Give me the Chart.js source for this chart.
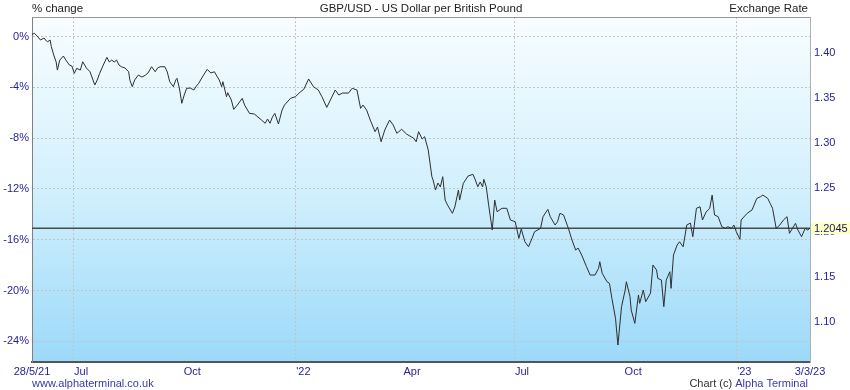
<!DOCTYPE html>
<html lang="en">
<head>
    <meta charset="UTF-8">
    <meta name="viewport" content="width=device-width, initial-scale=1.0">
    <title>GBP/USD - US Dollar per British Pound</title>
    <script src="https://cdn.jsdelivr.net/npm/chart.js@4.4.0/dist/chart.umd.min.js"></script>
    <style>
        body { margin: 0; background: #fff; }
        .grafico { position: relative; width: 850px; height: 390px; }
    </style>
</head>
<body>
    <div class="grafico">
        <canvas id="fx"></canvas>
    </div>

    <script>
        // days counted from 28/5/21, GBP/USD close
        const days = [0,2,5,7,10,12,13,15,16,18,20,21,23,26,28,31,33,35,37,40,
            42,45,48,52,54,56,59,62,64,66,68,70,72,74,77,80,81,83,85,88,
            91,94,96,99,102,104,106,110,112,114,117,119,120,122,124,126,128,131,134,136,
            138,141,145,148,151,153,155,157,158,161,162,165,167,170,174,176,180,184,187,190,
            193,195,197,199,201,204,207,209,214,218,222,225,229,233,237,240,244,247,251,254,
            257,262,265,269,272,274,277,280,284,286,289,292,296,299,302,306,310,316,318,320,
            323,325,328,331,332,334,336,338,340,342,344,348,350,353,354,357,361,365,367,369,
            371,373,374,376,378,381,383,385,389,393,396,400,403,405,408,411,414,416,421,423,
            427,429,433,435,437,440,443,444,447,450,452,455,459,462,466,
            469,470,472,476,478,480,483,485,488,491,492,495,496,499,502,503,506,508,512,514,
            517,518,521,523,525,528,529,531,534,536,539,542,545,547,550,553,555,558,561,563,
            565,568,571,574,576,579,581,583,586,587,592,596,600,603,605,609,611,613,616,619,
            622,625,627,632,634,637,640,642,644];

        const rates = [1.4210,1.4224,1.4182,1.4149,1.4171,1.4137,1.4130,1.4149,1.4074,1.3981,
            1.3903,1.3813,1.3925,1.3970,1.3925,1.3869,1.3858,1.3776,1.3832,1.3813,
            1.3906,1.3836,1.3794,1.3646,1.3702,1.3776,1.3869,1.3955,1.3903,1.3925,
            1.3903,1.3925,1.3869,1.3850,1.3836,1.3794,1.3702,1.3627,1.3702,1.3757,
            1.3735,1.3757,1.3780,1.3850,1.3794,1.3836,1.3850,1.3850,1.3791,1.3683,
            1.3627,1.3702,1.3720,1.3612,1.3441,1.3534,1.3609,1.3612,1.3590,1.3634,
            1.3665,1.3735,1.3821,1.3780,1.3794,1.3746,1.3702,1.3627,1.3683,1.3515,
            1.3560,1.3478,1.3374,1.3422,1.3497,1.3422,1.3329,1.3322,1.3288,1.3254,
            1.3218,1.3266,1.3218,1.3288,1.3329,1.3210,1.3366,1.3422,1.3497,1.3515,
            1.3567,1.3598,1.3713,1.3627,1.3590,1.3515,1.3396,1.3478,1.3590,1.3534,
            1.3556,1.3556,1.3609,1.3590,1.3385,1.3422,1.3366,1.3254,1.3124,1.3176,
            1.3012,1.3143,1.3254,1.3199,1.3106,1.3151,1.3098,1.3050,1.3012,1.3124,
            1.3042,1.3068,1.2919,1.2621,1.2584,1.2472,1.2550,1.2506,1.2621,1.2360,
            1.2304,1.2212,1.2282,1.2472,1.2360,1.2547,1.2629,1.2648,1.2584,1.2509,
            1.2562,1.2506,1.2592,1.2509,1.2304,1.2025,1.2360,1.2230,1.2268,1.2268,
            1.2137,1.2118,1.1932,1.2036,1.1894,1.1838,1.1936,1.2006,1.2044,1.2174,
            1.2256,1.2174,1.2081,1.2118,1.2212,1.2193,1.2081,1.2044,1.1913,1.1801,
            1.1824,1.1746,1.1615,1.1522,1.1522,
            1.1597,1.1671,1.1541,1.1447,1.1429,1.1262,1.1038,1.0740,1.1168,1.1354,
            1.1447,1.1280,1.1131,1.0982,1.1299,1.1206,1.1354,1.1224,1.1321,1.1634,
            1.1578,1.1485,1.1466,1.1168,1.1466,1.1559,1.1373,1.1746,1.1857,1.1894,
            1.1838,1.2081,1.2103,1.1950,1.2268,1.2285,1.2137,1.2226,1.2268,1.2416,
            1.2193,1.2174,1.2062,1.2044,1.2062,1.2044,1.2081,1.2006,1.1921,1.2137,
            1.2212,1.2249,1.2379,1.2397,1.2416,1.2379,1.2323,1.2268,1.2044,1.2081,
            1.2137,1.2174,1.1988,1.2100,1.2025,1.1950,1.2044,1.2025,1.2045];

        const baseRate = 1.4186     // the 0% level
        const lastRate = 1.2045
        const rateMin = 1.055
        const rateMax = 1.4406
        const lastDay = 644

        const rateTicks = [1.10, 1.15, 1.20, 1.25, 1.30, 1.35, 1.40]
        const pctTicks = [0, -4, -8, -12, -16, -20, -24]
        const dateTicks = [0, 34, 126, 218, 308, 399, 491, 583, 644]
        const dateLabels = ['28/5/21', 'Jul', 'Oct', "'22", 'Apr', 'Jul', 'Oct', "'23", '3/3/23']
        const gridDays = [34, 218, 399, 583]

        const fonte = '"Liberation Sans", Arial, sans-serif'
        const azul = '#25259a'
        const nudge = 8   // month labels sit just right of their tick

        function pct(r) {
            return (r / baseRate - 1) * 100
        }

        const fundo = {
            id: 'fundo',
            beforeDraw(chart) {
                const {ctx, chartArea: a} = chart
                const g = ctx.createLinearGradient(0, a.top, 0, a.bottom)
                g.addColorStop(0, '#f8fdff')
                g.addColorStop(0.5, '#d2f0fd')
                g.addColorStop(1, '#9cd9f9')
                ctx.save()
                ctx.fillStyle = g
                ctx.fillRect(a.left, a.top, a.right - a.left, a.bottom - a.top)
                ctx.restore()
            }
        }

        const textos = {
            id: 'textos',
            afterDraw(chart) {
                const {ctx, chartArea: a} = chart
                ctx.save()
                // top edge of the frame
                ctx.strokeStyle = '#999'
                ctx.lineWidth = 1
                ctx.beginPath()
                ctx.moveTo(a.left, a.top + 0.5)
                ctx.lineTo(a.right, a.top + 0.5)
                ctx.stroke()

                ctx.font = '11.5px ' + fonte
                ctx.fillStyle = '#222'
                ctx.textBaseline = 'alphabetic'
                ctx.textAlign = 'left'
                ctx.fillText('% change', a.left, 12)
                ctx.textAlign = 'center'
                ctx.fillText('GBP/USD - US Dollar per British Pound', (a.left + a.right) / 2, 12)
                ctx.textAlign = 'right'
                ctx.fillText('Exchange Rate', a.right - 2, 12)

                ctx.font = '11px ' + fonte
                ctx.textAlign = 'left'
                ctx.fillStyle = '#3838b0'
                ctx.fillText('www.alphaterminal.co.uk', a.left, 387)
                ctx.textAlign = 'right'
                ctx.fillText('Alpha Terminal', a.right - 2, 387)
                const w = ctx.measureText('Alpha Terminal').width
                ctx.fillStyle = '#333'
                ctx.fillText('Chart (c) ', a.right - 2 - w, 387)

                // current rate tag on the right axis
                const y = chart.scales.y.getPixelForValue(lastRate)
                ctx.fillStyle = '#ffffc8'
                ctx.fillRect(a.right + 1, y - 6, 850 - a.right - 1, 12)
                ctx.fillStyle = '#1a1a50'
                ctx.textAlign = 'left'
                ctx.textBaseline = 'middle'
                ctx.fillText(lastRate.toFixed(4), a.right + 4, y + 0.5)
                ctx.restore()
            }
        }

        const pontos = days.map(function(d, i) {
            return {x: d, y: rates[i]}
        })

        new Chart(document.getElementById('fx'), {
            type: 'line',
            data: {
                datasets: [{
                    data: pontos,
                    borderColor: '#2e2e2e',
                    borderWidth: 1,
                    pointRadius: 0,
                    tension: 0,
                    yAxisID: 'y'
                }, {
                    data: [{x: 0, y: lastRate}, {x: lastDay, y: lastRate}],
                    borderColor: '#4a4a4a',
                    borderWidth: 1.3,
                    pointRadius: 0,
                    yAxisID: 'y'
                }]
            },
            options: {
                responsive: true,
                maintainAspectRatio: false,
                animation: false,
                layout: { padding: { top: 17, left: 0, right: 0, bottom: 0 } },
                plugins: {
                    legend: { display: false },
                    tooltip: { enabled: false }
                },
                scales: {
                    x: {
                        type: 'linear',
                        min: 0,
                        max: lastDay,
                        afterBuildTicks: function(scale) {
                            const shift = nudge * lastDay / scale.width
                            scale.ticks = dateTicks.map(function(d, i) {
                                let v = d
                                if (i === 0 || i === dateTicks.length - 1) v = d - shift
                                return {value: v, label: dateLabels[i]}
                            })
                        },
                        afterFit: function(scale) {
                            scale.height = 28
                            scale.paddingLeft = 0
                            scale.paddingRight = 0
                        },
                        ticks: {
                            autoSkip: false,
                            maxRotation: 0,
                            minRotation: 0,
                            labelOffset: nudge,
                            padding: 3,
                            color: azul,
                            font: { family: fonte, size: 11 },
                            callback: function(v, i) { return dateLabels[i] }
                        },
                        grid: {
                            drawTicks: false,
                            color: function(c) {
                                return c.tick && gridDays.includes(c.tick.value) ? '#c4c4c4' : 'rgba(0,0,0,0)'
                            }
                        },
                        border: { color: '#555', width: 2, dash: [2, 2] }
                    },
                    y: {
                        position: 'right',
                        min: rateMin,
                        max: rateMax,
                        afterBuildTicks: function(scale) {
                            scale.ticks = rateTicks.map(function(v) { return {value: v} })
                        },
                        afterFit: function(scale) { scale.width = 40 },
                        ticks: {
                            padding: 4,
                            color: azul,
                            font: { family: fonte, size: 11 },
                            callback: function(v) { return v.toFixed(2) }
                        },
                        grid: { drawOnChartArea: false, drawTicks: false },
                        border: { color: '#b0b0b0', width: 1 }
                    },
                    y2: {
                        position: 'left',
                        min: pct(rateMin),
                        max: pct(rateMax),
                        afterBuildTicks: function(scale) {
                            scale.ticks = pctTicks.map(function(v) { return {value: v} })
                        },
                        afterFit: function(scale) { scale.width = 32 },
                        ticks: {
                            padding: 3,
                            color: azul,
                            font: { family: fonte, size: 11 },
                            callback: function(v) { return v + '%' }
                        },
                        grid: { color: '#c4c4c4', drawTicks: false },
                        border: { color: '#808080', width: 1, dash: [2, 2] }
                    }
                }
            },
            plugins: [fundo, textos]
        })
    </script>
</body>
</html>
